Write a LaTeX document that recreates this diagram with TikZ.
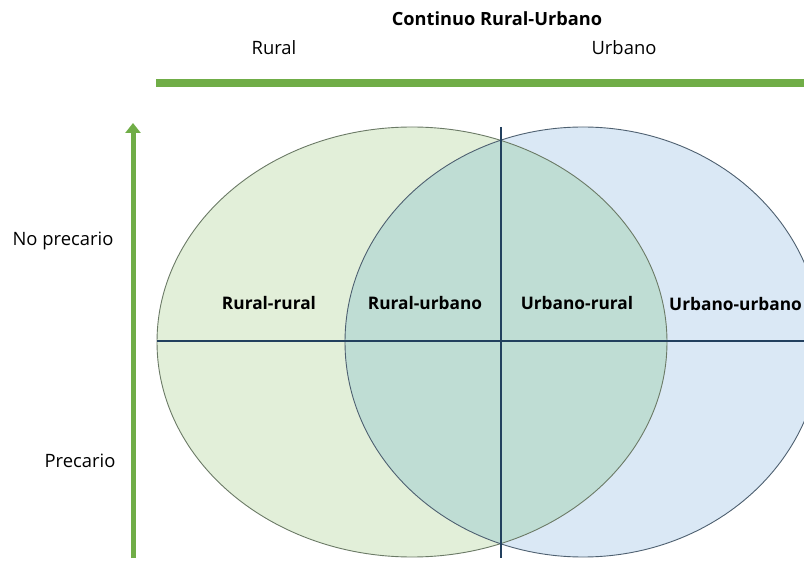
\documentclass[tikz,border=0pt]{standalone}
\usepackage{fontspec}
\setmainfont{Open Sans}
\usetikzlibrary{positioning, arrows.meta}
\definecolor{barGreen}{HTML}{70AD47}
\definecolor{lftFill}{HTML}{E2EFD9}
\definecolor{rgtFill}{HTML}{DAE8F5}
\definecolor{midFill}{HTML}{BFDDD4}
\definecolor{lftEdge}{HTML}{6B7A66}
\definecolor{rgtEdge}{HTML}{4E6070}
\definecolor{axLine}{HTML}{22405E}
\tikzstyle{zone}=[inner sep=0pt, font=\bfseries\fontsize{17.3}{20}\selectfont]
\tikzstyle{lbl}=[inner sep=0pt, font=\fontsize{18.4}{21}\selectfont]
\tikzstyle{axis}=[draw=axLine, line width=1.4pt]

\begin{document}
\begin{tikzpicture}[x=1pt, y=-1pt]
\useasboundingbox (0,0) rectangle (804,561);
%
\fill[lftFill] (412,342) ellipse [x radius=255pt, y radius=215pt];
\fill[rgtFill] (583,342) ellipse [x radius=238pt, y radius=215pt];
\begin{scope}
\clip (412,342) ellipse [x radius=255pt, y radius=215pt];
\fill[midFill] (583,342) ellipse [x radius=238pt, y radius=215pt];
\end{scope}
\draw[lftEdge, line width=0.9pt] (412,342) ellipse [x radius=255pt, y radius=215pt];
\draw[rgtEdge, line width=0.9pt] (583,342) ellipse [x radius=238pt, y radius=215pt];
%
\coordinate (vtop) at (501,127);
\coordinate (vbot) at (501,558);
\coordinate (hlft) at (157,341);
\coordinate (hrgt) at (804,341);
\draw[axis] (vtop) -- (vbot);
\draw[axis] (hlft) -- (hrgt);
%
\coordinate (bar0) at (156,83);
\coordinate (bar1) at (804,83);
\draw[barGreen, line width=7.5pt] (bar0) -- (bar1);
\coordinate (arr0) at (133,558);
\coordinate (arr1) at (133,123);
\draw[barGreen, line width=5pt, -{Triangle[width=15pt, length=10pt]}] (arr0) -- (arr1);
%
\node[zone, font=\bfseries\fontsize{18.2}{21}\selectfont] (title) at (497,19) {Continuo Rural-Urbano};
\node[lbl] (rural) at (274,48) {Rural};
\node[lbl] (urbano) at (624,48) {Urbano};
\node[lbl] (noprec) at (63,241) {No precario};
\node[lbl] (prec) at (80,461) {Precario};
%
\node[zone] (rr) at (269,303) {Rural-rural};
\node[zone] (ru) at (425,303) {Rural-urbano};
\node[zone] (ur) at (577,303) {Urbano-rural};
\node[zone, anchor=west] (uu) at (669,304) {Urbano-urbano};
\end{tikzpicture}
\end{document}
